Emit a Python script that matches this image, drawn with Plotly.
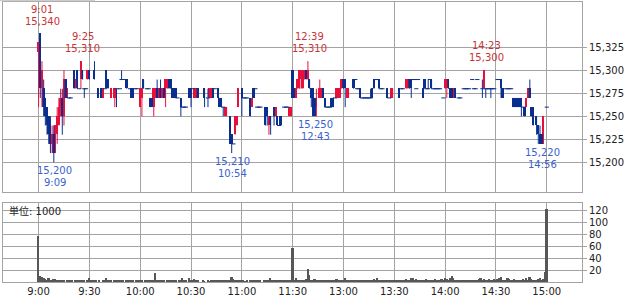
import plotly.graph_objects as go

# ---------------- data ----------------
tick_minutes = [0, 30, 60, 90, 120, 150, 180, 210, 240, 270, 300]
tick_labels = ["9:00", "9:30", "10:00", "10:30", "11:00", "11:30",
               "13:00", "13:30", "14:00", "14:30", "15:00"]
price_ticks = [15200, 15225, 15250, 15275, 15300, 15325]
volume_ticks = [20, 40, 60, 80, 100, 120]

# 1-minute candles (minute index from 9:00, lunch break removed)
c_min = [0, 1, 2, 3, 4, 5, 6, 7, 8, 9,
         10, 11, 12, 13, 14, 15, 16, 17, 18, 19,
         21, 22, 23, 24, 25, 26, 27, 28, 29, 30,
         33, 35, 37, 38, 39, 40, 41, 43, 45, 46,
         48, 49, 51, 52, 54, 55, 56, 57, 58, 60,
         61, 62, 64, 65, 66, 67, 68, 69, 70, 71,
         72, 73, 74, 75, 76, 77, 78, 79, 80, 81,
         82, 84, 85, 86, 87, 89, 90, 91, 92, 93,
         94, 98, 100, 101, 102, 103, 104, 106, 107, 108,
         109, 110, 111, 113, 114, 115, 116, 117, 118, 120,
         121, 122, 123, 125, 126, 127, 128, 129, 130, 131,
         134, 135, 136, 137, 139, 140, 141, 142, 143, 145,
         146, 147, 148, 149, 150,
         151, 152, 153, 154, 155, 156, 157, 158, 159, 160,
         161, 162, 163, 164, 166, 167, 168, 169, 170, 171,
         172, 173, 174, 175, 176, 177, 178, 179, 180, 181,
         182, 183, 186, 187, 188, 189, 190, 191, 192, 193,
         194, 195, 196, 197, 198, 199, 200, 201, 202, 203,
         206, 207, 208, 209, 213, 214, 215, 217, 218, 219,
         220, 221, 222, 223, 224, 227, 228, 229, 230, 231,
         232, 233, 234, 235, 236, 237, 239, 240, 241, 242,
         243, 244, 245, 246, 248, 249, 251, 252, 253, 254,
         256, 257, 258, 259, 262, 263, 264, 265, 266, 267,
         268, 269, 271, 272, 273, 274, 276, 277, 278, 279,
         280, 281, 282, 283, 284, 285, 286, 287, 288, 289,
         290, 291, 292, 294, 295, 296, 297, 298, 300]

c_open = [15320, 15340, 15280, 15280, 15270, 15260, 15250, 15240, 15220, 15230,
          15210, 15230, 15240, 15260, 15270, 15250, 15290, 15270, 15270, 15270,
          15300, 15280, 15300, 15280, 15290, 15300, 15280, 15280, 15290, 15300,
          15300, 15280, 15280, 15270, 15280, 15300, 15290, 15270, 15270, 15280,
          15280, 15290, 15290, 15290, 15280, 15280, 15280, 15280, 15280, 15260,
          15270, 15290, 15280, 15280, 15270, 15270, 15260, 15270, 15280, 15270,
          15280, 15270, 15280, 15270, 15280, 15290, 15290, 15280, 15280, 15280,
          15270, 15270, 15260, 15260, 15260, 15280, 15280, 15280, 15270, 15270,
          15280, 15280, 15270, 15270, 15270, 15280, 15280, 15280, 15270, 15270,
          15260, 15250, 15250, 15250, 15230, 15220, 15230, 15240, 15260, 15280,
          15270, 15270, 15270, 15270, 15260, 15280, 15280, 15260, 15260, 15260,
          15260, 15260, 15240, 15250, 15260, 15250, 15250, 15240, 15250, 15260,
          15260, 15260, 15250, 15250, 15300,
          15280, 15270, 15280, 15280, 15290, 15280, 15290, 15300, 15290, 15290,
          15280, 15280, 15270, 15260, 15270, 15270, 15280, 15270, 15260, 15260,
          15260, 15270, 15270, 15270, 15270, 15270, 15270, 15280, 15290, 15290,
          15270, 15270, 15290, 15290, 15280, 15280, 15280, 15270, 15270, 15270,
          15270, 15270, 15270, 15280, 15290, 15290, 15290, 15290, 15280, 15280,
          15280, 15270, 15270, 15270, 15280, 15280, 15280, 15280, 15280, 15290,
          15290, 15290, 15290, 15280, 15290, 15280, 15290, 15280, 15280, 15290,
          15290, 15280, 15280, 15280, 15280, 15280, 15270, 15280, 15280, 15290,
          15280, 15280, 15270, 15280, 15270, 15270, 15280, 15280, 15280, 15280,
          15290, 15280, 15280, 15290, 15280, 15280, 15280, 15280, 15280, 15280,
          15280, 15280, 15290, 15290, 15290, 15280, 15280, 15280, 15280, 15280,
          15270, 15270, 15270, 15270, 15270, 15270, 15260, 15260, 15260, 15270,
          15280, 15260, 15260, 15250, 15240, 15230, 15230, 15220, 15260]

c_high = [15330, 15340, 15310, 15290, 15270, 15260, 15250, 15250, 15240, 15240,
          15240, 15260, 15270, 15280, 15280, 15300, 15290, 15280, 15270, 15270,
          15300, 15290, 15300, 15280, 15310, 15300, 15280, 15280, 15300, 15300,
          15310, 15280, 15280, 15280, 15280, 15300, 15290, 15280, 15280, 15280,
          15280, 15300, 15290, 15290, 15280, 15280, 15280, 15280, 15280, 15280,
          15280, 15290, 15280, 15280, 15270, 15270, 15280, 15280, 15290, 15280,
          15290, 15280, 15280, 15290, 15290, 15290, 15290, 15280, 15280, 15280,
          15270, 15270, 15260, 15260, 15260, 15280, 15280, 15280, 15280, 15280,
          15280, 15280, 15280, 15280, 15280, 15280, 15280, 15280, 15270, 15270,
          15260, 15260, 15260, 15250, 15230, 15220, 15250, 15250, 15280, 15280,
          15270, 15270, 15270, 15270, 15270, 15280, 15280, 15260, 15260, 15260,
          15260, 15260, 15250, 15250, 15260, 15260, 15250, 15240, 15250, 15260,
          15260, 15260, 15260, 15260, 15300,
          15280, 15280, 15290, 15300, 15300, 15300, 15300, 15300, 15310, 15290,
          15280, 15280, 15270, 15280, 15290, 15280, 15280, 15270, 15260, 15260,
          15260, 15270, 15270, 15270, 15280, 15280, 15280, 15290, 15290, 15290,
          15280, 15280, 15290, 15290, 15280, 15280, 15280, 15270, 15270, 15270,
          15270, 15270, 15280, 15280, 15290, 15290, 15290, 15290, 15280, 15280,
          15280, 15270, 15280, 15280, 15280, 15280, 15280, 15290, 15290, 15290,
          15290, 15290, 15290, 15280, 15290, 15280, 15290, 15280, 15290, 15290,
          15290, 15280, 15280, 15280, 15280, 15280, 15270, 15290, 15290, 15290,
          15280, 15280, 15280, 15280, 15270, 15270, 15280, 15280, 15280, 15280,
          15290, 15280, 15280, 15290, 15290, 15300, 15280, 15280, 15280, 15280,
          15280, 15280, 15290, 15290, 15290, 15280, 15280, 15280, 15280, 15280,
          15270, 15270, 15270, 15270, 15270, 15270, 15260, 15260, 15270, 15280,
          15290, 15260, 15260, 15250, 15240, 15240, 15230, 15250, 15260]

c_low = [15260, 15270, 15260, 15250, 15240, 15230, 15220, 15210, 15210, 15200,
         15210, 15220, 15240, 15250, 15230, 15240, 15270, 15270, 15270, 15270,
         15280, 15280, 15280, 15280, 15280, 15290, 15270, 15280, 15290, 15290,
         15290, 15270, 15270, 15270, 15280, 15280, 15280, 15270, 15260, 15260,
         15280, 15290, 15290, 15280, 15280, 15270, 15270, 15280, 15280, 15260,
         15250, 15280, 15280, 15280, 15260, 15260, 15250, 15270, 15270, 15270,
         15270, 15270, 15270, 15260, 15280, 15280, 15280, 15270, 15270, 15270,
         15270, 15250, 15260, 15260, 15260, 15270, 15260, 15280, 15270, 15270,
         15270, 15260, 15260, 15270, 15270, 15270, 15280, 15270, 15260, 15260,
         15250, 15250, 15250, 15220, 15210, 15220, 15230, 15240, 15260, 15250,
         15270, 15270, 15270, 15250, 15260, 15270, 15280, 15260, 15260, 15260,
         15240, 15240, 15230, 15230, 15240, 15250, 15240, 15240, 15240, 15260,
         15260, 15260, 15250, 15250, 15270,
         15270, 15270, 15280, 15280, 15280, 15280, 15290, 15290, 15290, 15280,
         15260, 15250, 15250, 15250, 15270, 15270, 15270, 15260, 15260, 15260,
         15260, 15260, 15260, 15270, 15270, 15270, 15270, 15280, 15280, 15260,
         15270, 15270, 15280, 15290, 15280, 15280, 15270, 15270, 15270, 15270,
         15270, 15270, 15270, 15270, 15280, 15290, 15290, 15280, 15280, 15280,
         15270, 15270, 15270, 15270, 15270, 15280, 15280, 15280, 15280, 15280,
         15270, 15290, 15290, 15280, 15290, 15270, 15280, 15280, 15280, 15290,
         15280, 15280, 15280, 15280, 15280, 15280, 15270, 15280, 15270, 15280,
         15270, 15270, 15270, 15270, 15270, 15270, 15280, 15280, 15280, 15280,
         15290, 15280, 15280, 15290, 15270, 15280, 15270, 15280, 15280, 15270,
         15280, 15280, 15290, 15290, 15270, 15270, 15280, 15280, 15280, 15280,
         15260, 15260, 15260, 15260, 15260, 15250, 15260, 15250, 15260, 15270,
         15270, 15250, 15240, 15230, 15220, 15220, 15220, 15220, 15260]

c_close = [15330, 15280, 15300, 15260, 15250, 15240, 15230, 15220, 15230, 15210,
           15240, 15250, 15260, 15270, 15250, 15290, 15270, 15280, 15270, 15270,
           15280, 15290, 15280, 15280, 15310, 15290, 15280, 15280, 15300, 15290,
           15290, 15270, 15270, 15280, 15280, 15280, 15280, 15280, 15280, 15280,
           15280, 15290, 15290, 15280, 15280, 15270, 15270, 15280, 15280, 15280,
           15280, 15280, 15280, 15280, 15260, 15260, 15280, 15280, 15270, 15280,
           15270, 15280, 15270, 15290, 15290, 15280, 15280, 15270, 15270, 15270,
           15270, 15260, 15260, 15260, 15260, 15270, 15270, 15280, 15280, 15280,
           15270, 15270, 15270, 15280, 15280, 15270, 15280, 15270, 15260, 15260,
           15260, 15260, 15260, 15220, 15220, 15220, 15250, 15250, 15280, 15270,
           15270, 15270, 15270, 15250, 15270, 15270, 15280, 15260, 15260, 15260,
           15240, 15250, 15250, 15240, 15250, 15260, 15240, 15240, 15240, 15260,
           15260, 15260, 15260, 15260, 15270,
           15270, 15280, 15290, 15300, 15300, 15300, 15300, 15290, 15300, 15280,
           15270, 15250, 15250, 15270, 15280, 15280, 15270, 15260, 15260, 15260,
           15260, 15260, 15260, 15270, 15280, 15280, 15280, 15290, 15280, 15280,
           15280, 15280, 15280, 15290, 15280, 15280, 15270, 15270, 15270, 15270,
           15270, 15270, 15270, 15270, 15280, 15290, 15290, 15280, 15280, 15280,
           15270, 15270, 15280, 15280, 15270, 15280, 15280, 15290, 15290, 15280,
           15280, 15290, 15290, 15280, 15290, 15270, 15280, 15280, 15280, 15290,
           15280, 15280, 15280, 15280, 15280, 15280, 15270, 15290, 15290, 15280,
           15270, 15270, 15280, 15270, 15270, 15270, 15280, 15280, 15280, 15280,
           15290, 15280, 15280, 15290, 15280, 15300, 15280, 15280, 15280, 15280,
           15280, 15280, 15290, 15290, 15280, 15270, 15280, 15280, 15280, 15280,
           15260, 15260, 15260, 15260, 15260, 15260, 15260, 15250, 15270, 15280,
           15270, 15250, 15240, 15240, 15230, 15220, 15220, 15250, 15260]

# volume per minute (unit: 1000 shares), minute 0 .. 300
volume = [76, 10, 9, 6, 5, 4, 7, 4, 4, 5,
          5, 4, 3, 2, 3, 2, 0, 2, 3, 2,
          3, 0, 2, 3, 2, 3, 2, 3, 0, 2,
          7, 3, 2, 2, 3, 0, 2, 0, 2, 3,
          6, 2, 3, 2, 0, 2, 2, 3, 2, 2,
          2, 0, 2, 2, 3, 2, 2, 0, 2, 2,
          4, 2, 0, 2, 3, 2, 2, 3, 2, 15,
          4, 2, 3, 2, 3, 0, 2, 2, 3, 2,
          2, 3, 0, 2, 2, 7, 2, 2, 0, 7,
          2, 3, 5, 2, 2, 0, 0, 2, 1, 0,
          2, 1, 3, 3, 2, 2, 3, 2, 2, 3,
          2, 3, 2, 4, 8, 5, 4, 3, 4, 2,
          3, 2, 1, 2, 0, 2, 3, 3, 2, 2,
          2, 2, 0, 2, 3, 4, 2, 7, 3, 2,
          3, 2, 2, 3, 2, 2, 3, 2, 3, 2,
          57, 3, 6, 4, 3, 4, 3, 4, 5, 22,
          11, 4, 3, 5, 4, 3, 4, 3, 3, 4,
          3, 4, 3, 3, 4, 4, 5, 3, 2, 4,
          3, 7, 4, 3, 4, 3, 3, 2, 2, 3,
          4, 2, 3, 2, 2, 3, 2, 3, 5, 2,
          6, 2, 2, 3, 2, 3, 2, 3, 4, 2,
          3, 2, 4, 3, 2, 3, 3, 5, 4, 3,
          7, 6, 3, 5, 4, 3, 2, 4, 3, 5,
          3, 2, 4, 3, 5, 3, 4, 3, 5, 4,
          6, 5, 4, 6, 10, 7, 4, 3, 2, 3,
          2, 3, 2, 2, 3, 4, 3, 2, 4, 3,
          5, 6, 4, 5, 3, 4, 5, 4, 3, 5,
          4, 5, 6, 8, 4, 3, 4, 6, 5, 3,
          4, 5, 4, 3, 4, 4, 5, 4, 6, 4,
          8, 5, 4, 3, 4, 5, 6, 4, 5, 17,
          121]

# labelled highs / lows
hi_minutes = [1, 25, 159, 263]
hi_prices = [15340, 15310, 15310, 15300]
hi_times = ["9:01", "9:25", "12:39", "14:23"]
lo_minutes = [9, 114, 163, 297]
lo_prices = [15200, 15210, 15250, 15220]
lo_times = ["9:09", "10:54", "12:43", "14:56"]

unit_label = "単位: 1000"

# ---------------- figure ----------------
n = len(c_min)
assert len(c_open) == n and len(c_high) == n and len(c_low) == n and len(c_close) == n
assert len(volume) == 301

W, H = 632, 296
RED = "#e8103c"
BLUE = "#0b2f8e"
GRID = "#a3a3a3"
TXT = "#222222"
FONT = "DejaVu Sans, Noto Sans CJK JP, sans-serif"

up = [i for i in range(n) if c_close[i] > c_open[i]]
dn = [i for i in range(n) if c_close[i] < c_open[i]]
dj = [i for i in range(n) if c_close[i] == c_open[i]]


def wick(idx):
    xs, ys = [], []
    for i in idx:
        xs += [c_min[i], c_min[i], None]
        ys += [c_low[i], c_high[i], None]
    return xs, ys


fig = go.Figure()

for idx, col in ((up, RED), (dn + dj, BLUE)):
    wx, wy = wick(idx)
    fig.add_trace(go.Scatter(x=wx, y=wy, mode="lines",
                             line=dict(color=col, width=1),
                             xaxis="x", yaxis="y", hoverinfo="skip"))

fig.add_trace(go.Bar(x=[c_min[i] for i in up],
                     y=[c_close[i] - c_open[i] for i in up],
                     base=[c_open[i] for i in up],
                     width=1.0, marker=dict(color=RED, line=dict(width=0)),
                     xaxis="x", yaxis="y"))
fig.add_trace(go.Bar(x=[c_min[i] for i in dn],
                     y=[c_open[i] - c_close[i] for i in dn],
                     base=[c_close[i] for i in dn],
                     width=1.0, marker=dict(color=BLUE, line=dict(width=0)),
                     xaxis="x", yaxis="y"))
fig.add_trace(go.Scatter(x=[c_min[i] for i in dj],
                         y=[c_close[i] for i in dj],
                         mode="markers",
                         marker=dict(symbol="line-ew", size=3,
                                     line=dict(color=BLUE, width=1)),
                         xaxis="x", yaxis="y"))

fig.add_trace(go.Bar(x=list(range(len(volume))), y=volume, width=1.0,
                     marker=dict(color="#575757", line=dict(width=0)),
                     xaxis="x2", yaxis="y2"))

xdom = [3 / W, 582 / W]
xrange_ = [-21, 320.8]
common_x = dict(domain=xdom, range=xrange_, tickvals=tick_minutes,
                showgrid=True, gridcolor=GRID, gridwidth=1,
                showline=True, mirror=True, linecolor=GRID, linewidth=1,
                zeroline=False, fixedrange=True)

RED_T = "#c83434"
BLUE_T = "#3a62cf"
annotations = []
for m, p, t in zip(hi_minutes, hi_prices, hi_times):
    annotations.append(dict(x=m, y=p, xref="x", yref="y", text=f"{p:,}",
                            showarrow=False, yanchor="middle",
                            yshift=12.5, xshift=2,
                            font=dict(color=RED_T, size=10)))
    annotations.append(dict(x=m, y=p, xref="x", yref="y", text=t,
                            showarrow=False, yanchor="middle",
                            yshift=24.5, xshift=2,
                            font=dict(color=RED_T, size=10)))
for m, p, t in zip(lo_minutes, lo_prices, lo_times):
    annotations.append(dict(x=m, y=p, xref="x", yref="y", text=f"{p:,}",
                            showarrow=False, yanchor="middle",
                            yshift=-8.5, xshift=1,
                            font=dict(color=BLUE_T, size=10)))
    annotations.append(dict(x=m, y=p, xref="x", yref="y", text=t,
                            showarrow=False, yanchor="middle",
                            yshift=-20.5, xshift=1,
                            font=dict(color=BLUE_T, size=10)))
annotations.append(dict(x=7 / W, y=1 - 211 / H, xref="paper", yref="paper",
                        xanchor="left", yanchor="middle", text=unit_label,
                        showarrow=False, font=dict(color=TXT, size=10)))

fig.update_layout(
    width=W, height=H,
    margin=dict(l=0, r=0, t=0, b=0),
    paper_bgcolor="white", plot_bgcolor="white",
    showlegend=False, barmode="overlay", bargap=0,
    font=dict(family=FONT, size=10, color=TXT),
    xaxis=dict(common_x, anchor="y", showticklabels=False, ticks=""),
    xaxis2=dict(common_x, anchor="y2", ticktext=tick_labels, ticks="",
                tickfont=dict(size=10, color=TXT)),
    yaxis=dict(domain=[1 - 192 / H, 1 - 2.3 / H], range=[15167.7, 15374],
               anchor="x", side="right", tickvals=price_ticks, tickformat=",",
               tickfont=dict(size=10, color=TXT),
               showgrid=True, gridcolor=GRID, showline=True, mirror=True,
               linecolor=GRID, ticks="outside", ticklen=4, tickcolor=GRID,
               zeroline=False, fixedrange=True),
    yaxis2=dict(domain=[1 - 282.3 / H, 1 - 203.3 / H], range=[0, 131.7],
                anchor="x2", side="right", tickvals=volume_ticks,
                tickfont=dict(size=10, color=TXT),
                showgrid=True, gridcolor=GRID, showline=True, mirror=True,
                linecolor=GRID, ticks="outside", ticklen=4, tickcolor=GRID,
                zeroline=False, fixedrange=True),
    annotations=annotations,
    shapes=[dict(type="line", xref="paper", yref="paper", x0=0, x1=95 / W,
                 y0=1 - 0.5 / H, y1=1 - 0.5 / H,
                 line=dict(color="#cccccc", width=1.5))],
)

fig.write_html("out.html")
